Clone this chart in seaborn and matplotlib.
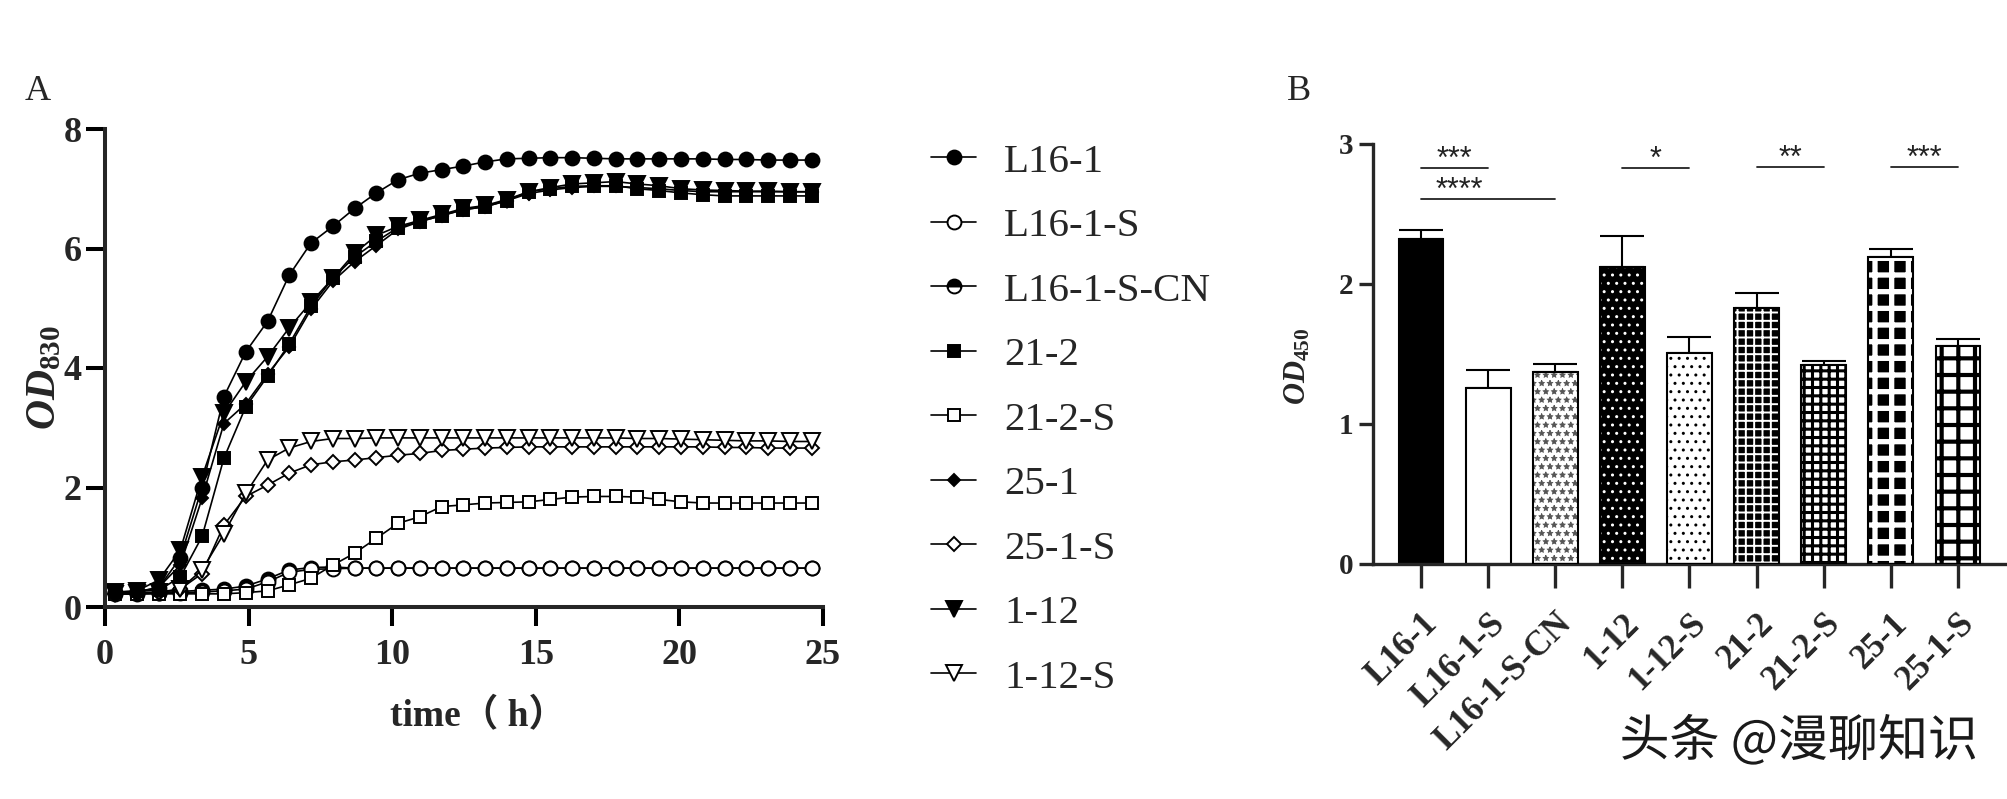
import numpy as np
import pandas as pd
import matplotlib
matplotlib.use("Agg")
import matplotlib.pyplot as plt
import matplotlib.patheffects as pe
from matplotlib.patches import Rectangle
import seaborn as sns

# ---------------- data: panel A (growth curves) ----------------
time_h = [0.35, 1.11, 1.87, 2.62, 3.38, 4.14, 4.90, 5.66, 6.41, 7.17, 7.93, 8.69,
          9.45, 10.20, 10.96, 11.72, 12.48, 13.24, 13.99, 14.75, 15.51, 16.27,
          17.03, 17.78, 18.54, 19.30, 20.06, 20.82, 21.58, 22.33, 23.09, 23.85, 24.61]

od_L16_1 = [0.25, 0.26, 0.32, 0.82, 2.00, 3.52, 4.27, 4.78, 5.55, 6.09, 6.37, 6.67,
            6.93, 7.15, 7.26, 7.32, 7.38, 7.45, 7.50, 7.51, 7.52, 7.52, 7.51, 7.50,
            7.50, 7.50, 7.50, 7.50, 7.49, 7.49, 7.48, 7.48, 7.48]
od_L16_1_S = [0.22, 0.22, 0.23, 0.24, 0.25, 0.27, 0.30, 0.42, 0.58, 0.63, 0.64, 0.65,
              0.65, 0.65, 0.65, 0.65, 0.65, 0.65, 0.65, 0.65, 0.65, 0.65, 0.65, 0.65,
              0.65, 0.65, 0.65, 0.65, 0.65, 0.65, 0.65, 0.65, 0.65]
od_L16_1_S_CN = [0.23, 0.23, 0.24, 0.26, 0.28, 0.30, 0.35, 0.47, 0.62, 0.66, 0.67, 0.65,
                 0.65, 0.65, 0.65, 0.65, 0.65, 0.65, 0.65, 0.65, 0.65, 0.65, 0.65, 0.65,
                 0.65, 0.65, 0.65, 0.65, 0.65, 0.65, 0.65, 0.65, 0.65]
od_21_2 = [0.25, 0.26, 0.28, 0.50, 1.18, 2.49, 3.35, 3.86, 4.40, 5.03, 5.50, 5.86,
           6.12, 6.35, 6.45, 6.55, 6.65, 6.70, 6.80, 6.95, 7.00, 7.04, 7.05, 7.05,
           7.00, 6.97, 6.93, 6.90, 6.88, 6.88, 6.88, 6.88, 6.88]
od_21_2_S = [0.22, 0.22, 0.22, 0.22, 0.22, 0.22, 0.24, 0.27, 0.37, 0.48, 0.70, 0.90,
             1.15, 1.40, 1.51, 1.68, 1.71, 1.74, 1.75, 1.76, 1.80, 1.84, 1.85, 1.85,
             1.84, 1.80, 1.76, 1.74, 1.74, 1.74, 1.74, 1.74, 1.74]
od_25_1 = [0.24, 0.25, 0.33, 0.70, 1.82, 3.07, 3.40, 3.90, 4.35, 4.98, 5.45, 5.78,
           6.05, 6.32, 6.45, 6.55, 6.65, 6.70, 6.80, 6.92, 6.98, 7.02, 7.04, 7.04,
           7.02, 7.00, 6.97, 6.95, 6.95, 6.95, 6.95, 6.95, 6.95]
od_25_1_S = [0.22, 0.22, 0.24, 0.30, 0.56, 1.37, 1.85, 2.04, 2.24, 2.38, 2.43, 2.46,
             2.50, 2.54, 2.57, 2.62, 2.64, 2.66, 2.67, 2.68, 2.68, 2.68, 2.68, 2.68,
             2.68, 2.68, 2.68, 2.68, 2.67, 2.67, 2.66, 2.66, 2.66]
od_1_12 = [0.25, 0.27, 0.45, 0.95, 2.18, 3.24, 3.77, 4.19, 4.67, 5.10, 5.50, 5.92,
           6.22, 6.37, 6.47, 6.57, 6.67, 6.72, 6.82, 6.95, 7.02, 7.08, 7.10, 7.12,
           7.08, 7.05, 7.00, 6.98, 6.97, 6.96, 6.96, 6.95, 6.95]
od_1_12_S = [0.22, 0.23, 0.25, 0.30, 0.62, 1.23, 1.90, 2.46, 2.66, 2.77, 2.82, 2.82,
             2.83, 2.83, 2.83, 2.83, 2.83, 2.83, 2.83, 2.83, 2.83, 2.83, 2.83, 2.83,
             2.82, 2.82, 2.81, 2.80, 2.79, 2.78, 2.78, 2.77, 2.77]

strain_names = ["L16-1", "L16-1-S", "L16-1-S-CN", "21-2", "21-2-S",
                "25-1", "25-1-S", "1-12", "1-12-S"]
strain_values = [od_L16_1, od_L16_1_S, od_L16_1_S_CN, od_21_2, od_21_2_S,
                 od_25_1, od_25_1_S, od_1_12, od_1_12_S]

# ---------------- data: panel B (bar chart) ----------------
bar_categories = ["L16-1", "L16-1-S", "L16-1-S-CN", "1-12", "1-12-S",
                  "21-2", "21-2-S", "25-1", "25-1-S"]
bar_means = [2.32, 1.26, 1.37, 2.12, 1.51, 1.83, 1.42, 2.19, 1.555]
bar_errors = [0.065, 0.125, 0.06, 0.22, 0.11, 0.105, 0.03, 0.06, 0.053]
sig_pairs = [(0, 1), (0, 2), (3, 4), (5, 6), (7, 8)]
sig_labels = ["***", "****", "*", "**", "***"]
sig_heights = [2.83, 2.61, 2.83, 2.835, 2.835]

# ---------------- styling ----------------
sns.set_theme(style="ticks")
plt.rcParams["font.family"] = ["Liberation Serif", "Noto Sans CJK SC"]
plt.rcParams["mathtext.fontset"] = "custom"
plt.rcParams["mathtext.it"] = "Liberation Serif:italic:bold"
plt.rcParams["mathtext.rm"] = "Liberation Serif:bold"
plt.rcParams["mathtext.bf"] = "Liberation Serif:bold"

W, H = 2007, 799
fig = plt.figure(figsize=(W / 100, H / 100), dpi=100)


def frac_box(x0, y_top, x1, y_bot):
    return [x0 / W, (H - y_bot) / H, (x1 - x0) / W, (y_bot - y_top) / H]


def fpos(x, y):
    return x / W, 1 - y / H


# ================= Panel A =================
axA = fig.add_axes(frac_box(105, 129, 823, 607))

marker_styles = {
    "L16-1": dict(marker="o", markersize=10, markerfacecolor="black"),
    "L16-1-S": dict(marker="o", markersize=10, markerfacecolor="white"),
    "L16-1-S-CN": dict(marker="o", markersize=10, markerfacecolor="black",
                       fillstyle="top", markerfacecoloralt="white"),
    "21-2": dict(marker="s", markersize=9, markerfacecolor="black"),
    "21-2-S": dict(marker="s", markersize=9, markerfacecolor="white"),
    "25-1": dict(marker="D", markersize=6.5, markerfacecolor="black"),
    "25-1-S": dict(marker="D", markersize=7, markerfacecolor="white"),
    "1-12": dict(marker="v", markersize=11, markerfacecolor="black"),
    "1-12-S": dict(marker="v", markersize=11, markerfacecolor="white"),
}

draw_order = ["L16-1-S-CN", "L16-1-S", "21-2-S", "25-1-S", "1-12-S",
              "21-2", "25-1", "1-12", "L16-1"]
for name in draw_order:
    vals = strain_values[strain_names.index(name)]
    df = pd.DataFrame({"time": time_h, "od": vals})
    sns.lineplot(data=df, x="time", y="od", ax=axA, color="black", linewidth=1.2,
                 markeredgecolor="black", markeredgewidth=1.4, label=name,
                 clip_on=False, legend=False, **marker_styles[name])

axA.set_xlim(0, 25)
axA.set_ylim(0, 8)
axA.set_xticks([0, 5, 10, 15, 20, 25])
axA.set_yticks([0, 2, 4, 6, 8])
for sp in ["top", "right"]:
    axA.spines[sp].set_visible(False)
for sp in ["left", "bottom"]:
    axA.spines[sp].set_linewidth(2.9)
axA.tick_params(axis="both", which="major", length=14, width=2.9, labelsize=26,
                color="black")
axA.tick_params(axis="y", pad=3)
axA.tick_params(axis="x", pad=9)
for lab in axA.get_xticklabels() + axA.get_yticklabels():
    lab.set_fontweight("bold")
axA.set_xlabel("time（ h）", fontsize=27, fontweight="bold")
axA.xaxis.set_label_coords(0.52, -0.19)
axA.set_ylabel(r"$\mathit{OD}_{\mathrm{830}}$", fontsize=30, va="center")
axA.yaxis.set_label_coords(-0.083, 0.48)

# legend
handles, labels = axA.get_legend_handles_labels()
hmap = dict(zip(labels, handles))
leg = fig.legend([hmap[n] for n in strain_names], strain_names,
                 loc="upper left", bbox_to_anchor=fpos(931, 143),
                 frameon=False, fontsize=29.5, handlelength=1.1, handletextpad=0.68,
                 labelspacing=0.655, borderpad=0, borderaxespad=0)

fig.text(*fpos(38, 92), "A", fontsize=26, ha="center", va="center")
fig.text(*fpos(1299, 92), "B", fontsize=26, ha="center", va="center")

# ================= Panel B =================
axB = fig.add_axes(frac_box(1373, 144, 2007, 564))
bar_df = pd.DataFrame({"strain": bar_categories, "od": bar_means})
sns.barplot(data=bar_df, x="strain", y="od", order=bar_categories, ax=axB,
            color="white", width=0.67, edgecolor="black", linewidth=1.5,
            errorbar=None, zorder=2)

# fill / hatch patterns (face, hatch, hatch colour, hatch linewidth)
patterns = [
    ("black", "", "black", 1.0),
    ("white", "", "black", 1.0),
    ("white", "**", "#555555", 0.6),
    ("black", "..", "white", 1.0),
    ("white", "..", "black", 1.0),
    ("black", "++", "white", 1.4),
    ("white", "++", "black", 2.2),
    ("black", "+", "white", 3.8),
    ("white", "+", "black", 3.0),
]
bars = [p for p in axB.patches if isinstance(p, Rectangle)][:len(bar_categories)]
for p, (fc, hatch, hc, hlw) in zip(bars, patterns):
    p.set_facecolor(fc)
    if hatch:
        p.set_hatch(hatch)
        p.set_edgecolor(hc)
        p.set_linewidth(0)
        if hasattr(p, "set_hatch_linewidth"):
            p.set_hatch_linewidth(hlw)
        axB.add_patch(Rectangle(p.get_xy(), p.get_width(), p.get_height(),
                                fill=False, edgecolor="black", linewidth=1.5,
                                zorder=3))

xpos = np.arange(len(bar_categories))
axB.errorbar(xpos, bar_means, yerr=[np.zeros(len(bar_errors)), bar_errors],
             fmt="none", ecolor="black", elinewidth=1.5, capsize=16,
             capthick=1.5, zorder=1)

for (i, j), txt, h in zip(sig_pairs, sig_labels, sig_heights):
    axB.plot([i, j], [h, h], color="#222222", linewidth=1.3, zorder=4,
             clip_on=False)
    tx = (i + j) / 2 if j - i == 1 else i + 0.57
    axB.text(tx, h + 0.055, txt, ha="center", va="center", fontsize=22,
             family="Liberation Sans", color="#222222")

axB.set_xlim(-0.715, 8.73)
axB.set_ylim(0, 3)
axB.set_yticks([0, 1, 2, 3])
axB.set_xlabel("")
axB.set_ylabel(r"$\mathit{OD}_{\mathrm{450}}$", fontsize=22, va="center")
axB.yaxis.set_label_coords(-0.118, 0.47)
for sp in ["top", "right"]:
    axB.spines[sp].set_visible(False)
for sp in ["left", "bottom"]:
    axB.spines[sp].set_linewidth(2.4)
axB.tick_params(axis="y", length=10, width=2.4, labelsize=21, pad=4)
axB.tick_params(axis="x", length=17, width=2.4, labelsize=25, pad=14)
axB.set_xticks(xpos)
axB.set_xticklabels(bar_categories, rotation=45, ha="right",
                    rotation_mode="anchor", fontweight="bold")
for lab in axB.get_yticklabels():
    lab.set_fontweight("bold")

# watermark
fig.text(*fpos(1978, 742), "头条 @漫聊知识", ha="right", va="center",
         fontsize=36, family=["Noto Sans CJK SC", "DejaVu Sans"], color="#1a1a1a",
         path_effects=[pe.withStroke(linewidth=3, foreground="white")])

fig.savefig("out.png", dpi=100)
